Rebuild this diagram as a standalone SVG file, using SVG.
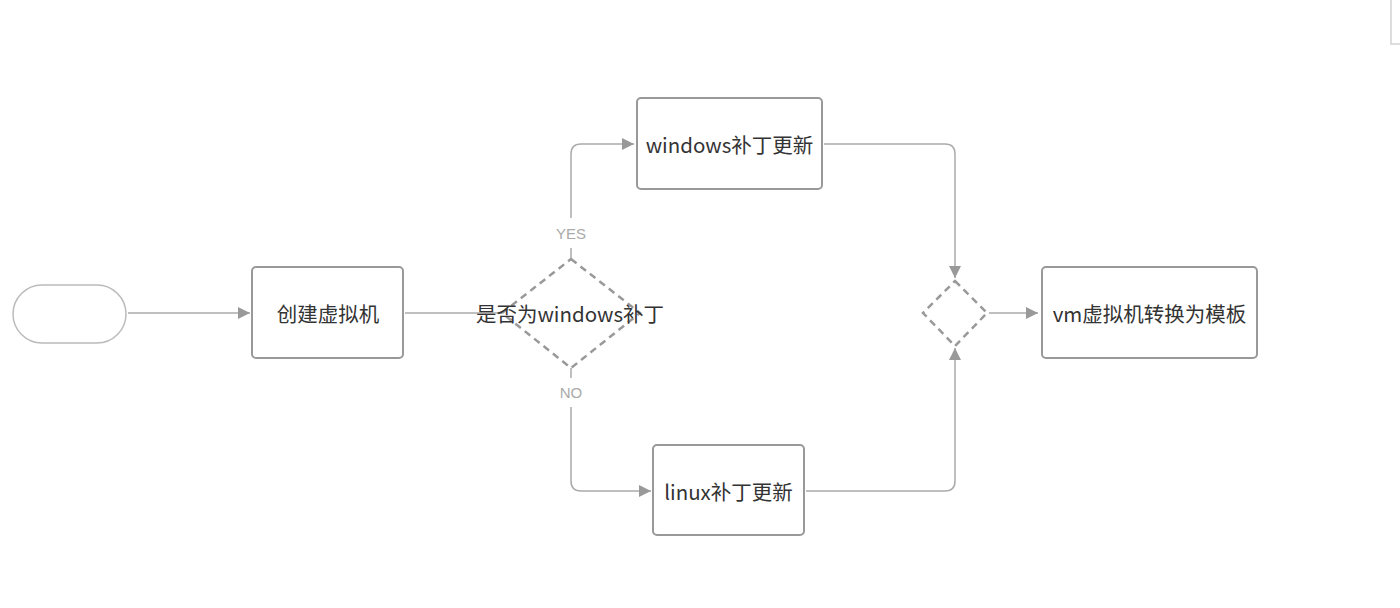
<svg xmlns="http://www.w3.org/2000/svg" width="1400" height="608" viewBox="0 0 1400 608">
<defs>
<style>
.box{fill:#fff;stroke:#999;stroke-width:2}
.term{fill:#fff;stroke:#bbb;stroke-width:1.5}
.dia{fill:none;stroke:#999;stroke-width:2.5;stroke-dasharray:7 5}
.ln{fill:none;stroke:#aaa;stroke-width:1.5}
.t{font-family:"Noto Sans CJK SC","Liberation Sans",sans-serif;font-size:20.5px;fill:#333;text-anchor:middle;dominant-baseline:central}
.lb{font-family:"Liberation Sans","Noto Sans CJK SC",sans-serif;font-size:15px;fill:#aaa;text-anchor:middle;dominant-baseline:central}
</style>
<marker id="ah" viewBox="0 0 10 10" refX="10" refY="5" markerWidth="12" markerHeight="12" markerUnits="userSpaceOnUse" orient="auto">
<path d="M0,0 L10,5 L0,10 z" fill="#999"/>
</marker>
</defs>
<rect width="1400" height="608" fill="#fff"/>
<path d="M1391,0 V44 H1400" fill="none" stroke="#ddd" stroke-width="2"/>
<g id="connectors">
<path class="ln" d="M128,313 H250" marker-end="url(#ah)"/>
<path class="ln" d="M405,313 H502"/>
<path class="ln" d="M571,259 V248"/>
<path class="ln" d="M571,218 V154 Q571,144 581,144 H634" marker-end="url(#ah)"/>
<path class="ln" d="M571,368 V378"/>
<path class="ln" d="M571,407 V481 Q571,491 581,491 H651" marker-end="url(#ah)"/>
<path class="ln" d="M824,144 H945 Q955,144 955,154 V278" marker-end="url(#ah)"/>
<path class="ln" d="M806,491 H945 Q955,491 955,481 V348" marker-end="url(#ah)"/>
<path class="ln" d="M989,313 H1038" marker-end="url(#ah)"/>
<text class="lb" x="571" y="233">YES</text>
<text class="lb" x="571" y="392">NO</text>
</g>
<g id="start"><rect class="term" x="13" y="285" width="113" height="58" rx="29"/></g>
<g id="create"><rect class="box" x="252" y="267" width="151" height="91" rx="4"/><text class="t" x="328" y="313">创建虚拟机</text></g>
<g id="decision"><path class="dia" d="M571,259 L640,313 L571,368 L502,313 Z"/><text class="t" x="570" y="313">是否为windows补丁</text></g>
<g id="win"><rect class="box" x="637" y="98" width="185" height="91" rx="4"/><text class="t" x="729.5" y="144">windows补丁更新</text></g>
<g id="linux"><rect class="box" x="653" y="445" width="151" height="90" rx="4"/><text class="t" x="728.5" y="491">linux补丁更新</text></g>
<g id="merge"><path class="dia" d="M955,281 L987,313 L955,346 L923,313 Z"/></g>
<g id="vm"><rect class="box" x="1042" y="267" width="215" height="91" rx="4"/><text class="t" x="1149.5" y="313">vm虚拟机转换为模板</text></g>
</svg>
